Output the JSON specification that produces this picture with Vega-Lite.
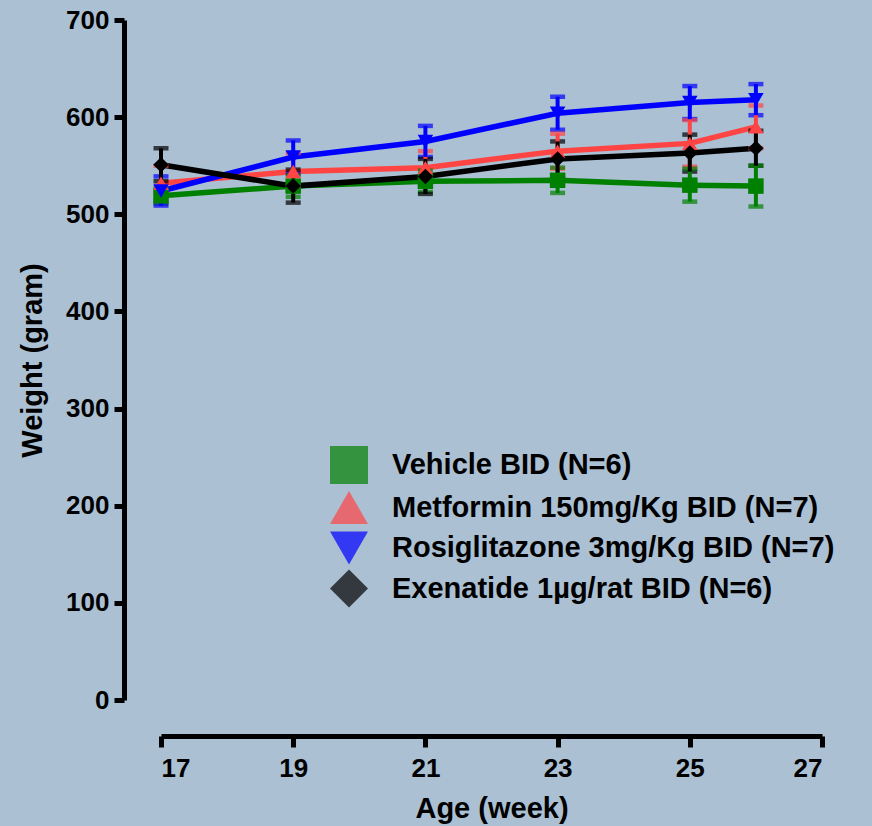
{
  "$schema": "https://vega.github.io/schema/vega-lite/v6.json",
  "width": 661,
  "height": 680,
  "autosize": {"type": "none"},
  "padding": {"left": 161, "top": 20, "right": 50, "bottom": 126},
  "background": "#abc0d3",
  "config": {
    "view": {"stroke": null},
    "font": "Liberation Sans",
    "axis": {
      "grid": false,
      "domainColor": "#000000",
      "domainWidth": 5,
      "tickColor": "#000000",
      "tickWidth": 5,
      "labelColor": "#000000",
      "labelFont": "Liberation Sans",
      "labelFontSize": 26,
      "labelFontWeight": "bold",
      "titleColor": "#000000",
      "titleFont": "Liberation Sans",
      "titleFontSize": 29,
      "titleFontWeight": "bold"
    }
  },
  "data": {
    "values": [
      {"group": "Vehicle BID (N=6)", "week": 17, "mean": 519, "sem": 8},
      {"group": "Vehicle BID (N=6)", "week": 19, "mean": 529, "sem": 11},
      {"group": "Vehicle BID (N=6)", "week": 21, "mean": 534, "sem": 11},
      {"group": "Vehicle BID (N=6)", "week": 23, "mean": 535, "sem": 13},
      {"group": "Vehicle BID (N=6)", "week": 25, "mean": 530, "sem": 17},
      {"group": "Vehicle BID (N=6)", "week": 26, "mean": 529, "sem": 21},
      {"group": "Metformin 150mg/Kg BID (N=7)", "week": 17, "mean": 532, "sem": 18},
      {"group": "Metformin 150mg/Kg BID (N=7)", "week": 19, "mean": 544, "sem": 19},
      {"group": "Metformin 150mg/Kg BID (N=7)", "week": 21, "mean": 548, "sem": 17},
      {"group": "Metformin 150mg/Kg BID (N=7)", "week": 23, "mean": 565, "sem": 18},
      {"group": "Metformin 150mg/Kg BID (N=7)", "week": 25, "mean": 573, "sem": 24},
      {"group": "Metformin 150mg/Kg BID (N=7)", "week": 26, "mean": 590, "sem": 22},
      {"group": "Rosiglitazone 3mg/Kg BID (N=7)", "week": 17, "mean": 524, "sem": 15},
      {"group": "Rosiglitazone 3mg/Kg BID (N=7)", "week": 19, "mean": 559, "sem": 17},
      {"group": "Rosiglitazone 3mg/Kg BID (N=7)", "week": 21, "mean": 575, "sem": 16},
      {"group": "Rosiglitazone 3mg/Kg BID (N=7)", "week": 23, "mean": 604, "sem": 17},
      {"group": "Rosiglitazone 3mg/Kg BID (N=7)", "week": 25, "mean": 615, "sem": 17},
      {"group": "Rosiglitazone 3mg/Kg BID (N=7)", "week": 26, "mean": 618, "sem": 16},
      {"group": "Exenatide 1µg/rat BID (N=6)", "week": 17, "mean": 551, "sem": 17},
      {"group": "Exenatide 1µg/rat BID (N=6)", "week": 19, "mean": 529, "sem": 17},
      {"group": "Exenatide 1µg/rat BID (N=6)", "week": 21, "mean": 539, "sem": 18},
      {"group": "Exenatide 1µg/rat BID (N=6)", "week": 23, "mean": 557, "sem": 18},
      {"group": "Exenatide 1µg/rat BID (N=6)", "week": 25, "mean": 563, "sem": 19},
      {"group": "Exenatide 1µg/rat BID (N=6)", "week": 26, "mean": 568, "sem": 18}
    ]
  },
  "encoding": {
    "x": {
      "field": "week",
      "type": "quantitative",
      "scale": {"domain": [17, 27], "nice": false, "zero": false},
      "axis": {
        "values": [17, 19, 21, 23, 25, 27],
        "offset": 36,
        "tickSize": 11,
        "labelPadding": 8,
        "title": "Age (week)",
        "titlePadding": 13
      }
    },
    "y": {
      "field": "mean",
      "type": "quantitative",
      "scale": {"domain": [0, 700], "nice": false},
      "axis": {
        "values": [0, 100, 200, 300, 400, 500, 600, 700],
        "offset": 37,
        "tickSize": 10,
        "labelPadding": 5,
        "title": "Weight (gram)",
        "titlePadding": 18
      }
    }
  },
  "layer": [
    {
      "mark": {"type": "line", "strokeWidth": 5.5},
      "encoding": {
        "color": {
          "field": "group",
          "type": "nominal",
          "scale": {
            "domain": ["Vehicle BID (N=6)", "Metformin 150mg/Kg BID (N=7)", "Rosiglitazone 3mg/Kg BID (N=7)", "Exenatide 1µg/rat BID (N=6)"],
            "range": ["#008000", "#ff4444", "#0000ff", "#000000"]
          }
        }
      }
    },
    {
      "mark": {"type": "errorbar", "thickness": 4, "ticks": {"size": 15, "thickness": 4.5}},
      "encoding": {
        "yError": {"field": "sem"},
        "color": {"field": "group", "type": "nominal"}
      }
    },
    {
      "mark": {"type": "point", "filled": true, "opacity": 1, "size": 240, "strokeWidth": 0},
      "encoding": {
        "fill": {
          "field": "group",
          "type": "nominal",
          "scale": {
            "domain": ["Vehicle BID (N=6)", "Metformin 150mg/Kg BID (N=7)", "Rosiglitazone 3mg/Kg BID (N=7)", "Exenatide 1µg/rat BID (N=6)"],
            "range": ["#008000", "#ff4444", "#0000ff", "#000000"]
          },
          "legend": null
        },
        "shape": {
          "field": "group",
          "type": "nominal",
          "scale": {
            "domain": ["Vehicle BID (N=6)", "Metformin 150mg/Kg BID (N=7)", "Rosiglitazone 3mg/Kg BID (N=7)", "Exenatide 1µg/rat BID (N=6)"],
            "range": ["square", "triangle-up", "triangle-down", "diamond"]
          },
          "legend": null
        }
      }
    },
    {
      "mark": {"type": "point", "filled": true, "opacity": 1, "size": 0, "strokeWidth": 0},
      "encoding": {
        "color": {
          "field": "group",
          "type": "nominal",
          "legend": {
            "orient": "none",
            "legendX": 169,
            "legendY": 426,
            "title": null,
            "padding": 0,
            "symbolType": "M-1,-0.14H1V0.14H-1Z M-0.37,-0.37H0.37V0.37H-0.37Z",
            "symbolSize": 1444,
            "symbolOpacity": 1,
            "symbolStrokeWidth": 0,
            "rowPadding": 4.5,
            "labelFont": "Liberation Sans",
            "labelFontSize": 29,
            "labelFontWeight": "bold",
            "labelColor": "#000000",
            "labelLimit": 700,
            "labelOffset": 24
          }
        }
      }
    }
  ]
}
